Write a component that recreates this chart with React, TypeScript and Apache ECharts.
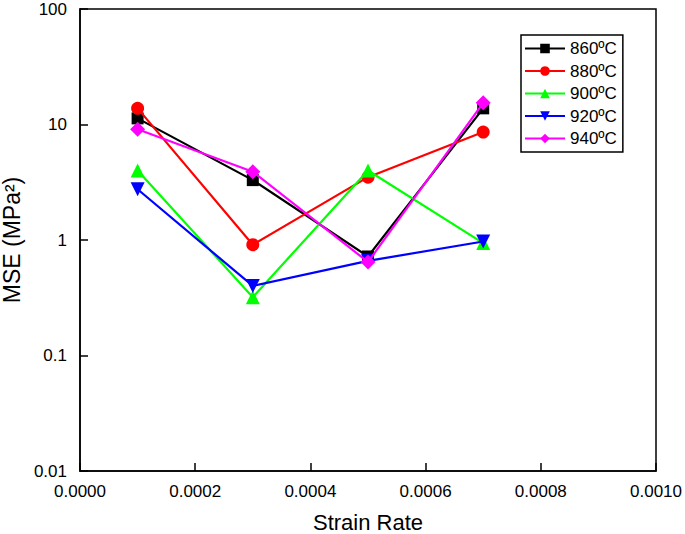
import React, { useEffect, useRef } from "react";
import * as echarts from "echarts";

const strainRates = [0.0001, 0.0003, 0.0005, 0.0007];
const seriesNames = ["860ºC", "880ºC", "900ºC", "920ºC", "940ºC"];
const mse860 = [11.3, 3.3, 0.72, 13.8];
const mse880 = [13.8, 0.91, 3.5, 8.6];
const mse900 = [4.0, 0.32, 4.0, 0.94];
const mse920 = [2.75, 0.4, 0.66, 0.97];
const mse940 = [9.1, 3.9, 0.645, 15.4];
const colors = ["#000000", "#ff0000", "#00ff00", "#0000ff", "#ff00ff"];
const symbols = ["rect", "circle", "triangle", "path://M0,0 L10,0 L5,10 Z", "diamond"];
const symbolSizes = [12, 13, 14, 14, 15];
const yTickLabels: Record<string, string> = { "0.01": "0.01", "0.1": "0.1", "1": "1", "10": "10", "100": "100" };

export default function App() {
  const ref = useRef<HTMLDivElement>(null);
  useEffect(() => {
    if (!ref.current) return;
    const chart = echarts.init(ref.current, undefined, { renderer: "svg" });
    const allData = [mse860, mse880, mse900, mse920, mse940];
    const font = "'Liberation Sans', Arial, sans-serif";
    chart.setOption({
      animation: false,
      textStyle: { fontFamily: font },
      grid: {
        left: 80,
        right: 29,
        top: 9,
        bottom: 63,
        show: true,
        borderColor: "#000",
        borderWidth: 1.5,
        backgroundColor: "transparent",
        containLabel: false,
        outerBoundsMode: "none",
      },
      legend: {
        orient: "vertical",
        left: 521,
        top: 35,
        padding: [5, 6, 5, 3],
        itemWidth: 40,
        itemHeight: 12,
        itemGap: 5.5,
        borderColor: "#000",
        borderWidth: 1.5,
        textStyle: { fontSize: 17, color: "#000", fontFamily: font },
        data: seriesNames,
      },
      xAxis: {
        type: "value",
        min: 0,
        max: 0.001,
        interval: 0.0002,
        name: "Strain Rate",
        nameLocation: "middle",
        nameGap: 40,
        nameTextStyle: { fontSize: 22, color: "#000", fontFamily: font },
        axisLine: { lineStyle: { color: "#000", width: 1.5 } },
        axisTick: { inside: true, length: 8, lineStyle: { color: "#000", width: 1.5 } },
        axisLabel: {
          fontSize: 17,
          color: "#000",
          fontFamily: font,
          margin: 12,
          formatter: (v: number) => v.toFixed(4),
        },
        splitLine: { show: false },
      },
      yAxis: {
        type: "log",
        logBase: 10,
        min: 0.01,
        max: 100,
        name: "MSE (MPa²)",
        nameLocation: "middle",
        nameGap: 53,
        nameRotate: 90,
        nameTextStyle: { fontSize: 23, color: "#000", fontFamily: font },
        axisLine: { lineStyle: { color: "#000", width: 1.5 } },
        axisTick: { inside: true, length: 8, lineStyle: { color: "#000", width: 1.5 } },
        axisLabel: {
          fontSize: 17,
          color: "#000",
          fontFamily: font,
          margin: 13,
          formatter: (v: number) => {
            const k = String(Number(v.toPrecision(3)));
            return yTickLabels[k] ?? k;
          },
        },
        splitLine: { show: false },
      },
      series: seriesNames.map((name, i) => ({
        name,
        type: "line",
        data: strainRates.map((x, j) => [x, allData[i][j]]),
        symbol: symbols[i],
        symbolSize: symbolSizes[i],
        showAllSymbol: true,
        itemStyle: { color: colors[i] },
        lineStyle: { color: colors[i], width: 2.2 },
        z: 2 + i,
      })),
    });
    return () => chart.dispose();
  }, []);
  return (
    <div
      ref={ref}
      style={{ position: "absolute", left: 0, top: 0, width: 685, height: 534, background: "#fff" }}
    />
  );
}
